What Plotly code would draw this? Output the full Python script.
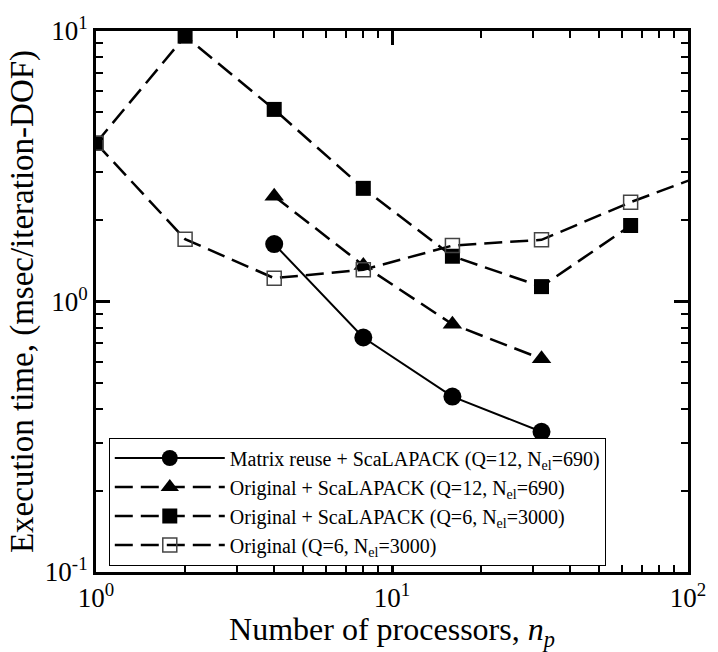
import plotly.graph_objects as go

# Data
np_reuse = [4, 8, 16, 32]
t_reuse = [1.63, 0.736, 0.445, 0.33]

np_q12 = [4, 8, 16, 32]
t_q12 = [2.45, 1.36, 0.824, 0.614]

np_q6 = [1, 2, 4, 8, 16, 32, 64]
t_q6 = [3.85, 9.57, 5.13, 2.62, 1.47, 1.135, 1.91]

np_orig = [1, 2, 4, 8, 16, 32, 64, 128]
t_orig = [3.85, 1.70, 1.22, 1.31, 1.61, 1.69, 2.33, 3.09]

names = [
    "Matrix reuse + ScaLAPACK (Q=12, N<sub>el</sub>=690)",
    "Original + ScaLAPACK (Q=12, N<sub>el</sub>=690)",
    "Original + ScaLAPACK (Q=6, N<sub>el</sub>=3000)",
    "Original (Q=6, N<sub>el</sub>=3000)",
]

x_major = [1, 10, 100]
x_major_text = ["10<sup>0</sup>", "10<sup>1</sup>", "10<sup>2</sup>"]
y_major = [0.1, 1, 10]
y_major_text = ["10<sup>-1</sup>", "10<sup>0</sup>", "10<sup>1</sup>"]
x_minor = [m * d for d in (1, 10) for m in range(2, 10)]
y_minor = [m * d for d in (0.1, 1) for m in range(2, 10)]

DASH = "18px,8px"
FONT = "Liberation Serif, Times New Roman, serif"

fig = go.Figure()
fig.add_trace(go.Scatter(
    x=np_reuse, y=t_reuse, name=names[0], mode="lines+markers",
    line=dict(color="black", width=2),
    marker=dict(symbol="circle", size=18, color="black"),
))
fig.add_trace(go.Scatter(
    x=np_q12, y=t_q12, name=names[1], mode="lines+markers",
    line=dict(color="black", width=2.5, dash=DASH),
    marker=dict(symbol="triangle-up", size=17, color="black"),
))
fig.add_trace(go.Scatter(
    x=np_q6, y=t_q6, name=names[2], mode="lines+markers",
    line=dict(color="black", width=2.5, dash=DASH),
    marker=dict(symbol="square", size=15, color="black"),
))
fig.add_trace(go.Scatter(
    x=np_orig, y=t_orig, name=names[3], mode="lines+markers",
    line=dict(color="black", width=2.5, dash=DASH),
    marker=dict(symbol="square-open", size=14, color="#444444",
                line=dict(width=1.5, color="#444444")),
    cliponaxis=True,
))

axis_common = dict(
    type="log", showline=True, linecolor="black", linewidth=3,
    mirror="allticks", ticks="inside", ticklen=14, tickwidth=2.5,
    tickcolor="black", showgrid=False, zeroline=False,
    tickfont=dict(family=FONT, size=27, color="black"),
)

fig.update_xaxes(
    **axis_common, range=[0, 2], tickmode="array",
    tickvals=x_major, ticktext=x_major_text,
    minor=dict(tickmode="array", tickvals=x_minor, ticks="inside",
               ticklen=7, tickwidth=1.5, tickcolor="black", showgrid=False),
    title=dict(text="Number of processors, <i>n<sub>p</sub></i>",
               font=dict(family=FONT, size=32, color="black"), standoff=4),
)
fig.update_yaxes(
    **axis_common, range=[-1, 1], tickmode="array",
    tickvals=y_major, ticktext=y_major_text,
    minor=dict(tickmode="array", tickvals=y_minor, ticks="inside",
               ticklen=7, tickwidth=1.5, tickcolor="black", showgrid=False),
    title=dict(text="Execution time, (msec/iteration-DOF)",
               font=dict(family=FONT, size=33, color="black"), standoff=2),
)

fig.update_layout(
    width=718, height=652,
    margin=dict(l=96, r=20, t=29, b=74),
    plot_bgcolor="white", paper_bgcolor="white",
    font=dict(family=FONT, color="black"),
    legend=dict(
        x=0.0216, y=0.012, xanchor="left", yanchor="bottom",
        bgcolor="white", bordercolor="black", borderwidth=1,
        font=dict(family=FONT, size=20, color="black"),
        tracegroupgap=0, itemwidth=110,
    ),
    showlegend=True,
)

fig.write_html("out.html")
